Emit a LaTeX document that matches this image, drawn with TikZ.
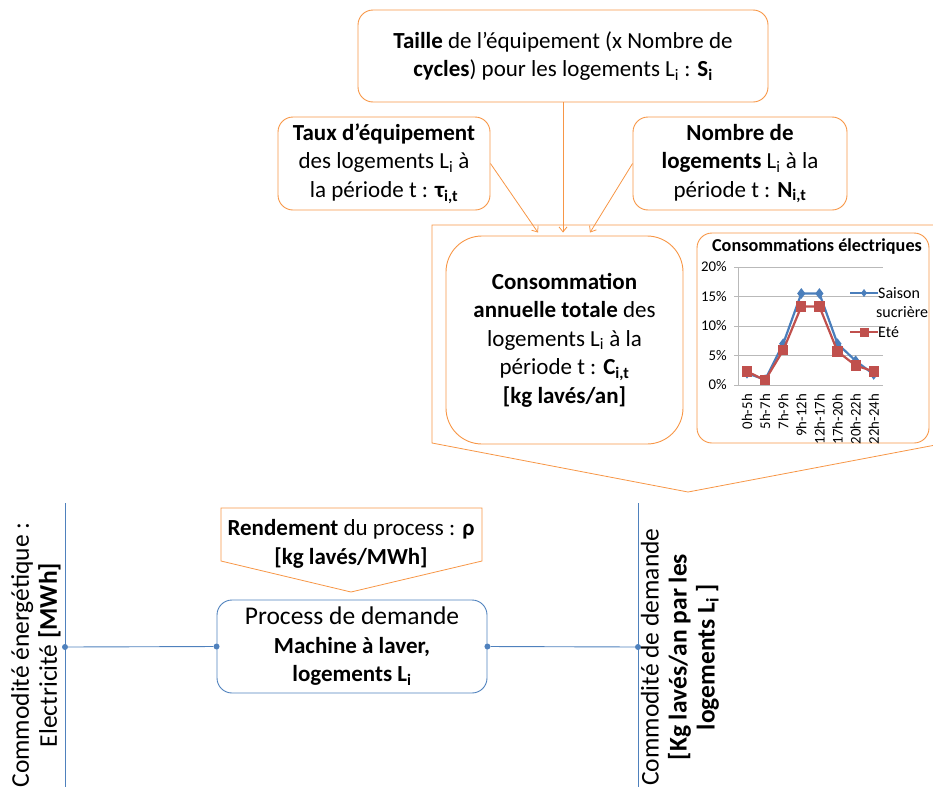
\documentclass[tikz,border=0pt]{standalone}
\usepackage{fontspec}
\setmainfont{Carlito}
\usetikzlibrary{arrows.meta,calc,plotmarks}
\definecolor{orln}{RGB}{247,150,70}
\definecolor{blln}{RGB}{79,129,189}
\definecolor{serblue}{RGB}{74,126,187}
\definecolor{serred}{RGB}{192,80,77}
\tikzset{
  obox/.style={draw=orln,line width=0.9pt,rounded corners=15pt,align=center,inner sep=0pt,
    font=\fontsize{23}{28.5}\selectfont},
  bbox/.style={draw=blln,line width=0.9pt,rounded corners=15pt,align=center,inner sep=0pt,
    font=\fontsize{23}{28.5}\selectfont},
  oline/.style={draw=orln,line width=0.8pt},
  bline/.style={draw=blln,line width=0.9pt},
  oarr/.style={oline,-{Straight Barb[length=5pt,width=8pt]}},
  bdot/.style={circle,fill=blln,inner sep=0pt,minimum size=6pt},
  rtext/.style={rotate=90,align=center,font=\fontsize{25.5}{28}\selectfont},
  axlab/.style={font=\fontsize{14.8}{16}\selectfont,inner sep=1pt},
  leglab/.style={font=\fontsize{16}{18}\selectfont,inner sep=1pt},
}
\begin{document}
\begin{tikzpicture}[x=1pt,y=-1pt]
\useasboundingbox (0,0) rectangle (933,787);
% big pentagon
\draw[oline] (432,225) -- (946,225) -- (946,443) -- (688,492) -- (432,443) -- cycle;
% top boxes
\node[obox,minimum width=410pt,minimum height=92pt] (taille) at (563,56)
  {\textbf{Taille} de l’équipement (x Nombre de\\ \textbf{cycles}) pour les logements L\textsubscript{i} : \textbf{S\textsubscript{i}}};
\node[obox,minimum width=212pt,minimum height=93pt] (taux) at (384,163.5)
  {\textbf{Taux d’équipement}\\ des logements L\textsubscript{i} à\\ la période t : \textbf{τ\textsubscript{i,t}}};
\node[obox,minimum width=214pt,minimum height=93pt] (nombre) at (740,163.5)
  {\textbf{Nombre de}\\ \textbf{logements} L\textsubscript{i} à la\\ période t : \textbf{N\textsubscript{i,t}}};
\node[obox,rounded corners=36pt,minimum width=237pt,minimum height=208pt] (cons) at (564.5,340)
  {\textbf{Consommation}\\ \textbf{annuelle totale} des\\ logements L\textsubscript{i} à la\\ période t : \textbf{C\textsubscript{i,t}}\\ \textbf{[kg lavés/an]}};
\node[draw=orln,line width=0.9pt,rounded corners=15pt,minimum width=232pt,minimum height=210pt] (chart) at (813,338) {};
% arrows
\coordinate (t1) at ($(cons.north)+(-26.5,-3)$);
\coordinate (t2) at ($(cons.north)+(-1.5,-3)$);
\coordinate (t3) at ($(cons.north)+(25.5,-3)$);
\draw[oarr] (taux.east) -- (t1);
\draw[oarr] (taille.south) -- (t2);
\draw[oarr] (nombre.west) -- (t3);
% chart
\node[font=\bfseries\fontsize{18.2}{20}\selectfont] (ctitle) at (817,247) {Consommations électriques};
\foreach \v in {5,10,15,20} \draw[gray!55,line width=0.8pt] (738,{385-5.9*\v}) -- (883,{385-5.9*\v});
\draw[gray!55,line width=0.8pt] (738,385) -- (883,385);
\draw[gray!55,line width=0.8pt] (738,267) -- (738,385);
\foreach \v in {0,5,10,15,20} {
  \draw[gray!55,line width=0.8pt] (734,{385-5.9*\v}) -- (738,{385-5.9*\v});
  \node[axlab,anchor=east] at (728,{385-5.9*\v}) {\v\%};
}
\foreach \c [count=\i from 0] in {0h-5h,5h-7h,7h-9h,9h-12h,12h-17h,17h-20h,20h-22h,22h-24h}
  \node[axlab,rotate=90,anchor=east] at ({747+18.1*\i},393) {\c};
\draw[serblue,line width=2.2pt,mark=diamond*,mark size=3.6pt,mark options={fill=serblue}]
  plot coordinates {(747,373.2) (765.1,379.7) (783.2,343.7) (801.3,293.5) (819.4,293.5) (837.5,343.7) (855.6,360.8) (873.7,374.4)};
\draw[serred,line width=2.2pt,mark=square*,mark size=4pt,mark options={fill=serred}]
  plot coordinates {(747,371.4) (765.1,380.3) (783.2,350.2) (801.3,306.5) (819.4,306.5) (837.5,351.4) (855.6,365.5) (873.7,371.4)};
% legend
\draw[serblue,line width=2.2pt] (850,293) -- (878,293);
\path plot[mark=diamond*,mark size=3.6pt,mark options={fill=serblue,draw=serblue}] coordinates {(864,293)};
\node[leglab,anchor=west] (lg1) at (877,293) {Saison};
\node[leglab,anchor=west] (lg2) at (875,312) {sucrière};
\draw[serred,line width=2.2pt] (850,332) -- (878,332);
\path plot[mark=square*,mark size=4pt,mark options={fill=serred,draw=serred}] coordinates {(864,332)};
\node[leglab,anchor=west] (lg3) at (877,332) {Eté};
% rendement
\draw[oline] (221,508) -- (482,508) -- (482,561) -- (351,592) -- (221,561) -- cycle;
\node[align=center,font=\fontsize{23}{28.5}\selectfont] (rend) at (351,544)
  {\textbf{Rendement} du process : \textbf{ρ}\\ \textbf{[kg lavés/MWh]}};
% process
\node[bbox,minimum width=270pt,minimum height=93pt] (proc) at (352,646.5)
  {{\fontsize{25.5}{28.5}\selectfont Process de demande}\\ \textbf{Machine à laver,}\\ \textbf{logements L\textsubscript{i}}};
% commodity lines
\coordinate (ltop) at (65,503);
\coordinate (lbot) at (65,787);
\coordinate (rtop) at (638,503);
\coordinate (rbot) at (638,787);
\draw[bline] (ltop) -- (lbot);
\draw[bline] (rtop) -- (rbot);
\node[bdot] (ldot) at (65,647) {};
\node[bdot] (rdot) at (638,647) {};
\node[bdot] (pl) at (proc.west) {};
\node[bdot] (pr) at (proc.east) {};
\draw[bline] (ldot) -- (pl);
\draw[bline] (pr) -- (rdot);
\node[rtext] (lt) at (36,655) {Commodité énergétique :\\ Electricité \textbf{[MWh]}};
\node[rtext] (rt) at (680,657) {Commodité de demande\\ \textbf{[Kg lavés/an par les}\\ \textbf{logements L\textsubscript{i} ]}};
\end{tikzpicture}
\end{document}
